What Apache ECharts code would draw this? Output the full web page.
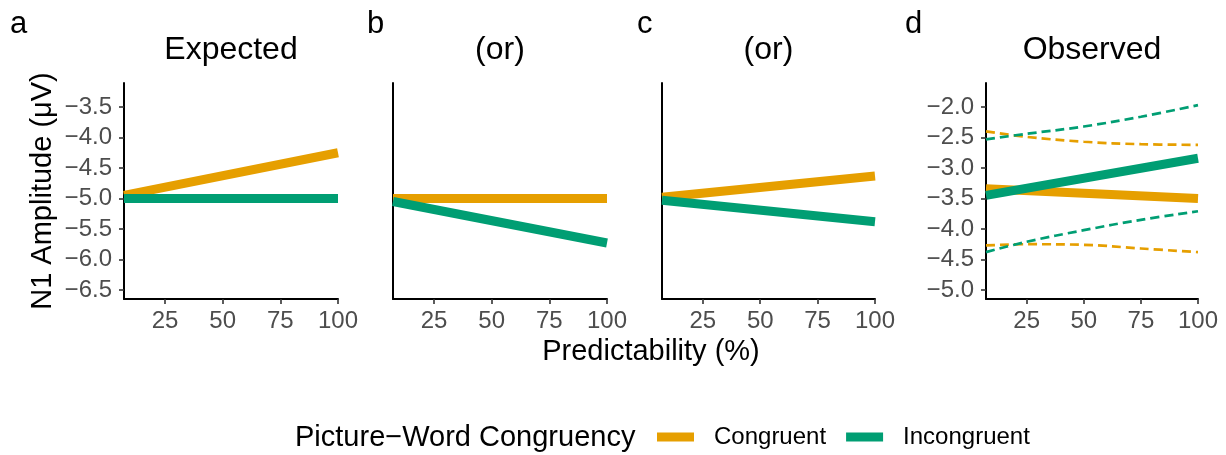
<!DOCTYPE html>
<html>
<head>
<meta charset="utf-8">
<script src="https://cdn.jsdelivr.net/npm/echarts@6/dist/echarts.min.js"></script>
<style>
    html, body { margin: 0; padding: 0; background: #fff; }
    #chart { width: 1226px; height: 455px; }
</style>
</head>
<body>
<div id="chart"></div>
<script>
    // x positions of the fitted lines (predictability %)
    var xEnds = [7.2, 100];
    var xCurve = [7.2, 25, 50, 75, 100];
    var xTicks = [25, 50, 75, 100];
    var yTicksABC = [-6.5, -6.0, -5.5, -5.0, -4.5, -4.0, -3.5];
    var yTicksD = [-5.0, -4.5, -4.0, -3.5, -3.0, -2.5, -2.0];

    var panelTitles = ['Expected', '(or)', '(or)', 'Observed'];
    var panelTags = ['a', 'b', 'c', 'd'];

    // panel a..c: hypothetical patterns
    var congA = [-4.95, -4.25];
    var incA = [-5.0, -5.0];
    var congB = [-5.0, -5.0];
    var incB = [-5.05, -5.73];
    var congC = [-4.98, -4.63];
    var incC = [-5.03, -5.38];

    // panel d: observed fit + bands
    var congD = [-3.34, -3.50];
    var incD = [-3.45, -2.84];
    var congUpper = [-2.40, -2.49, -2.57, -2.61, -2.62];
    var congLower = [-4.27, -4.25, -4.26, -4.32, -4.38];
    var incUpper = [-2.53, -2.44, -2.32, -2.16, -1.97];
    var incLower = [-4.38, -4.21, -4.02, -3.85, -3.71];

    var orange = '#E69F00';
    var green = '#009E73';
    var font = '"Liberation Sans", Arial, sans-serif';

    function pairs(xs, ys) {
        var out = [];
        for (var i = 0; i < xs.length; i++) out.push([xs[i], ys[i]]);
        return out;
    }
    function fmt(v) { return v.toFixed(1).replace('-', '\u2212'); }

    var grids = [
        {left: 124, top: 83, width: 214, height: 216},
        {left: 393, top: 83, width: 214, height: 216},
        {left: 662, top: 83, width: 213, height: 216},
        {left: 986, top: 83, width: 212, height: 216}
    ];

    var xAxes = [], yAxes = [];
    for (var i = 0; i < 4; i++) {
        xAxes.push({
            type: 'value', gridIndex: i, min: 7.2, max: 100,
            splitLine: {show: false},
            axisLine: {lineStyle: {color: '#000', width: 2}},
            axisTick: {customValues: xTicks, length: 5, lineStyle: {color: '#333', width: 1.6}},
            axisLabel: {customValues: xTicks, margin: 10, color: '#4D4D4D', fontSize: 24, fontFamily: font}
        });
        var isD = (i == 3);
        var showLab = (i == 0 || i == 3);
        yAxes.push({
            type: 'value', gridIndex: i,
            min: isD ? -5.148 : -6.648,
            max: isD ? -1.607 : -3.107,
            splitLine: {show: false},
            axisLine: {show: true, lineStyle: {color: '#000', width: 2}},
            axisTick: {show: showLab, customValues: isD ? yTicksD : yTicksABC, length: 5, lineStyle: {color: '#333', width: 1.6}},
            axisLabel: {show: showLab, customValues: isD ? yTicksD : yTicksABC, margin: 12, color: '#4D4D4D', fontSize: 24, fontFamily: font, formatter: fmt}
        });
    }

    function solid(name, idx, ys, color) {
        return {
            name: name, type: 'line', xAxisIndex: idx, yAxisIndex: idx,
            data: pairs(xEnds, ys), symbol: 'none', silent: true,
            itemStyle: {color: color},
            lineStyle: {color: color, width: 9, cap: 'butt'}
        };
    }
    function dashed(name, ys, color) {
        return {
            name: name, type: 'line', xAxisIndex: 3, yAxisIndex: 3,
            data: pairs(xCurve, ys), symbol: 'none', smooth: 0.4, silent: true,
            itemStyle: {color: color},
            lineStyle: {color: color, width: 2.7, type: [9, 5]}
        };
    }

    var series = [
        solid('Congruent', 0, congA, orange), solid('Incongruent', 0, incA, green),
        solid('Congruent', 1, congB, orange), solid('Incongruent', 1, incB, green),
        solid('Congruent', 2, congC, orange), solid('Incongruent', 2, incC, green),
        dashed('cong_upper', congUpper, orange), dashed('cong_lower', congLower, orange),
        dashed('inc_upper', incUpper, green), dashed('inc_lower', incLower, green),
        solid('Congruent', 3, congD, orange), solid('Incongruent', 3, incD, green)
    ];

    var centers = [231, 500, 768.5, 1092];
    var tagX = [10, 367, 637, 905];
    var graphics = [];
    for (var k = 0; k < 4; k++) {
        graphics.push({type: 'text', x: centers[k], y: 50, style: {text: panelTitles[k], font: '32px ' + font, fill: '#000', textAlign: 'center', textVerticalAlign: 'middle'}});
        graphics.push({type: 'text', x: tagX[k], y: 24, style: {text: panelTags[k], font: '31px ' + font, fill: '#000', textAlign: 'left', textVerticalAlign: 'middle'}});
    }
    graphics.push({type: 'text', x: 651, y: 352, style: {text: 'Predictability (%)', font: '29px ' + font, fill: '#000', textAlign: 'center', textVerticalAlign: 'middle'}});
    graphics.push({type: 'text', x: 43, y: 191, rotation: Math.PI / 2, style: {text: 'N1 Amplitude (\u03bcV)', font: '29px ' + font, fill: '#000', textAlign: 'center', textVerticalAlign: 'middle'}});
    graphics.push({type: 'text', x: 295, y: 438, style: {text: 'Picture\u2212Word Congruency', font: '29px ' + font, fill: '#000', textAlign: 'left', textVerticalAlign: 'middle'}});

    var myChart = echarts.init(document.getElementById('chart'));
    myChart.setOption({
        animation: false,
        grid: grids,
        xAxis: xAxes,
        yAxis: yAxes,
        series: series,
        legend: {
            data: ['Congruent', 'Incongruent'],
            left: 657, top: 425, padding: 0,
            icon: 'rect', itemWidth: 37, itemHeight: 9, itemGap: 20,
            selectedMode: false,
            textStyle: {fontSize: 24, fontFamily: font, color: '#000', padding: [0, 0, 0, 15]}
        },
        graphic: graphics
    });
</script>
</body>
</html>
